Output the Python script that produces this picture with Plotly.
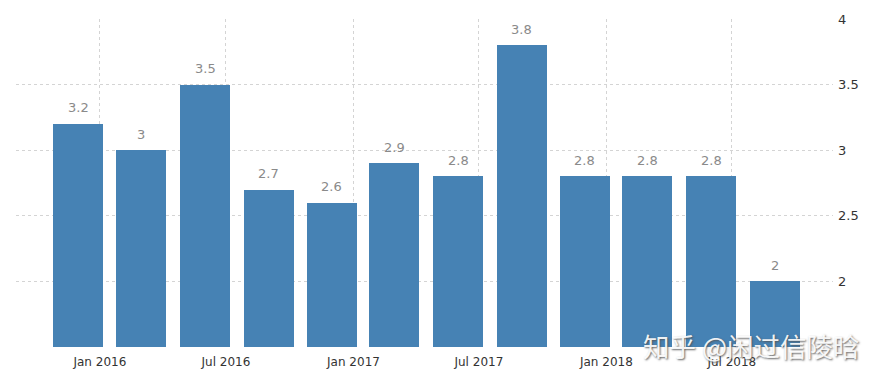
import plotly.graph_objects as go

dates = ["2015-12-01", "2016-03-01", "2016-06-01", "2016-09-01", "2016-12-01", "2017-03-01",
         "2017-06-01", "2017-09-01", "2017-12-01", "2018-03-01", "2018-06-01", "2018-09-01"]
values = [3.2, 3.0, 3.5, 2.7, 2.6, 2.9, 2.8, 3.8, 2.8, 2.8, 2.8, 2.0]
labels = ["3.2", "3", "3.5", "2.7", "2.6", "2.9", "2.8", "3.8", "2.8", "2.8", "2.8", "2"]
x_tickvals = ["2016-01-01", "2016-07-01", "2017-01-01", "2017-07-01", "2018-01-01", "2018-07-01"]
x_ticktext = ["Jan 2016", "Jul 2016", "Jan 2017", "Jul 2017", "Jan 2018", "Jul 2018"]
y_tickvals = [1.5, 2, 2.5, 3, 3.5, 4]
y_ticktext = ["", "2", "2.5", "3", "3.5", "4"]

fig = go.Figure()
fig.add_trace(go.Bar(
    x=dates, y=values,
    marker=dict(color="#4682b4", line=dict(width=0)),
    width=72 * 86400000,
))

for d, v, t in zip(dates, values, labels):
    fig.add_annotation(
        x=d, y=v, text=t, showarrow=False, yanchor="middle", yshift=16,
        font=dict(color="#8a8a8a", size=13, family="DejaVu Sans"),
    )

fig.update_layout(
    width=886, height=385,
    margin=dict(l=16, r=53, t=19, b=38),
    paper_bgcolor="white", plot_bgcolor="white",
    showlegend=False,
    font=dict(family="DejaVu Sans", color="#333333"),
    xaxis=dict(
        type="date", range=["2015-09-02", "2018-11-24"],
        tickvals=x_tickvals, ticktext=x_ticktext,
        tickfont=dict(size=12, color="#333333"),
        showgrid=True, gridcolor="#d4d4d4", griddash="dot", gridwidth=1,
        showline=False, zeroline=False, ticks="", ticklabelstandoff=6,
    ),
    yaxis=dict(
        side="right", range=[1.5, 4],
        tickvals=y_tickvals, ticktext=y_ticktext,
        tickfont=dict(size=13, color="#333333"),
        showgrid=True, gridcolor="#d4d4d4", griddash="dot", gridwidth=1,
        showline=False, zeroline=False, ticks="", ticklabelstandoff=4,
    ),
    bargap=0,
)

fig.add_annotation(
    text="知乎 @闲过信陵晗", xref="paper", yref="paper",
    x=1.0, y=0.0, xanchor="center", yanchor="middle",
    xshift=-82, yshift=2,
    showarrow=False,
    font=dict(family="Noto Sans CJK SC", size=26.5, color="rgba(255,255,255,0.92)",
              shadow="1px 1px 2px #555"),
)

fig.write_html("out.html", config={"displayModeBar": False},
               post_script="document.body.style.margin='0';")
